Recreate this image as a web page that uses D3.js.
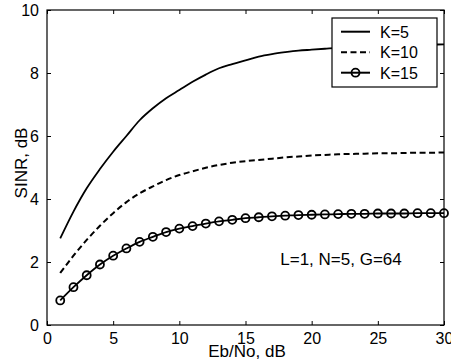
<!DOCTYPE html>
<html>
<head>
<meta charset="utf-8">
<script src="https://cdn.jsdelivr.net/npm/d3@7"></script>
<style>
body{margin:0;background:#fff;}
text{font-family:"Liberation Sans",Arial,sans-serif;fill:#000;}
.axis text{font-size:16px;}
.lbl{font-size:17px;}
</style>
</head>
<body>
<svg width="451" height="362"></svg>
<script>
// data
var ebno = d3.range(1, 31)
var k5  = [2.75,3.6,4.34,4.95,5.5,6.0,6.5,6.88,7.2,7.46,7.72,7.95,8.15,8.28,8.4,8.52,8.6,8.66,8.71,8.74,8.77,8.8,8.82,8.84,8.86,8.87,8.88,8.89,8.9,8.91]
var k10 = [1.65,2.2,2.7,3.15,3.55,3.9,4.18,4.4,4.6,4.76,4.88,4.99,5.08,5.15,5.2,5.24,5.28,5.32,5.35,5.38,5.4,5.42,5.43,5.44,5.45,5.45,5.46,5.47,5.47,5.48]
var k15 = [0.78,1.2,1.58,1.92,2.2,2.43,2.64,2.8,2.95,3.06,3.14,3.22,3.29,3.34,3.39,3.42,3.45,3.47,3.49,3.5,3.51,3.52,3.53,3.53,3.54,3.54,3.54,3.55,3.55,3.55]
var xTicks = [0,5,10,15,20,25,30]
var yTicks = [0,2,4,6,8,10]
var legendVals = ["K=5","K=10","K=15"]

var svg = d3.select("svg")
var x = d3.scaleLinear().domain([0,30]).range([47,444])
var y = d3.scaleLinear().domain([0,10]).range([325,10])

// axes (ticks inward, on all four sides)
svg.append("g").attr("class","axis").attr("transform","translate(0,325)")
	.call(d3.axisBottom(x).tickValues(xTicks).tickSize(-4).tickPadding(8))
svg.append("g").attr("class","axis").attr("transform","translate(0,10)")
	.call(d3.axisTop(x).tickValues(xTicks).tickSize(-4).tickFormat(""))
svg.append("g").attr("class","axis").attr("transform","translate(47,0)")
	.call(d3.axisLeft(y).tickValues(yTicks).tickSize(-4).tickPadding(8))
svg.append("g").attr("class","axis").attr("transform","translate(444,0)")
	.call(d3.axisRight(y).tickValues(yTicks).tickSize(-4).tickFormat(""))
svg.selectAll(".axis .domain").remove()
svg.selectAll(".axis line").attr("stroke","#000")
svg.append("rect").attr("x",47).attr("y",10).attr("width",397).attr("height",315)
	.attr("fill","none").attr("stroke","#000").attr("stroke-width",1.2)

// lines
var line = d3.line().x(function(d,i){return x(ebno[i]);}).y(function(d){return y(d);})
	.curve(d3.curveMonotoneX)
svg.append("path").attr("d",line(k5)).attr("fill","none").attr("stroke","#000").attr("stroke-width",1.8)
svg.append("path").attr("d",line(k10)).attr("fill","none").attr("stroke","#000").attr("stroke-width",2)
	.attr("stroke-dasharray","6,3.5")
svg.append("path").attr("d",line(k15)).attr("fill","none").attr("stroke","#000").attr("stroke-width",1.8)
svg.selectAll(".mk").data(k15).enter().append("circle").attr("class","mk")
	.attr("cx",function(d,i){return x(ebno[i]);}).attr("cy",function(d){return y(d);})
	.attr("r",4).attr("fill","none").attr("stroke","#000").attr("stroke-width",1.8)

// labels
svg.append("text").attr("class","lbl").attr("x",247).attr("y",357).attr("text-anchor","middle").text("Eb/No, dB")
svg.append("text").attr("class","lbl").attr("transform","translate(27,163) rotate(-90)").attr("text-anchor","middle").text("SINR, dB")
svg.append("text").attr("class","lbl").attr("x",341).attr("y",265).attr("text-anchor","middle").text("L=1, N=5, G=64")

// legend
var gLegend = svg.append("g")
gLegend.append("rect").attr("x",332).attr("y",18).attr("width",105).attr("height",69)
	.attr("fill","#fff").attr("stroke","#000").attr("stroke-width",1.2)
var dash = ["none","6,3.5","none"]
var legs = gLegend.selectAll(".legends").data(legendVals).enter().append("g")
	.attr("transform",function(d,i){return "translate(0,"+(31.7+i*20.5)+")";})
legs.append("line").attr("x1",341).attr("x2",370).attr("stroke","#000").attr("stroke-width",2)
	.attr("stroke-dasharray",function(d,i){return dash[i];})
legs.filter(function(d,i){return i==2;}).append("circle").attr("cx",355.5).attr("r",4)
	.attr("fill","none").attr("stroke","#000").attr("stroke-width",1.8)
legs.append("text").attr("x",380).attr("y",6).attr("class","lbl").style("font-size","16px").text(function(d){return d;})
</script>
</body>
</html>
